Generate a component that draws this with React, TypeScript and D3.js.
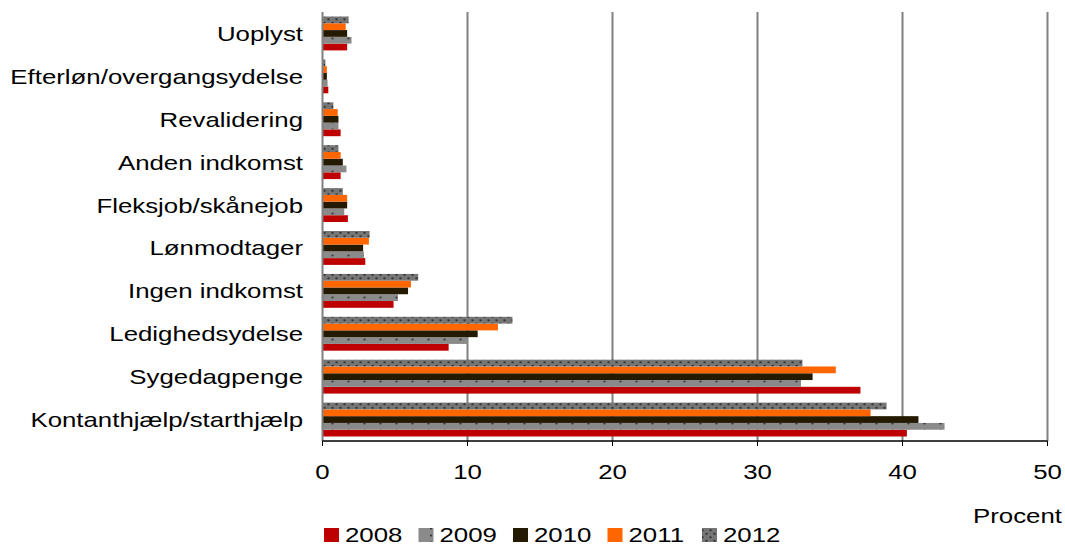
import React from "react";
import * as d3 from "d3";

const categories = [
  "Uoplyst",
  "Efterløn/overgangsydelse",
  "Revalidering",
  "Anden indkomst",
  "Fleksjob/skånejob",
  "Lønmodtager",
  "Ingen indkomst",
  "Ledighedsydelse",
  "Sygedagpenge",
  "Kontanthjælp/starthjælp",
];
const years = ["2008", "2009", "2010", "2011", "2012"];
const v2008 = [1.7, 0.4, 1.25, 1.25, 1.75, 2.95, 4.9, 8.7, 37.1, 40.3];
const v2009 = [2.0, 0.35, 1.1, 1.65, 1.5, 2.85, 5.2, 10.0, 33.0, 42.9];
const v2010 = [1.7, 0.3, 1.1, 1.4, 1.7, 2.8, 5.9, 10.7, 33.8, 41.1];
const v2011 = [1.6, 0.3, 1.05, 1.25, 1.7, 3.2, 6.1, 12.1, 35.4, 37.8];
const v2012 = [1.8, 0.2, 0.75, 1.1, 1.4, 3.25, 6.6, 13.1, 33.1, 38.9];
const seriesValues = [v2008, v2009, v2010, v2011, v2012];
const xTicks = [0, 10, 20, 30, 40, 50];

const fills = ["#BE0000", "url(#p2009)", "#241A02", "#FF6600", "url(#p2012)"];

const SX = 1.26;

function T(props: { x: number; y: number; anchor?: string; size?: number; children: React.ReactNode }) {
  const { x, y, anchor = "start", size = 20.5, children } = props;
  return (
    <g transform={`translate(${x},${y}) scale(${SX},1)`}>
      <text x={0} y={0} textAnchor={anchor as any} fontSize={size} fill="#000">
        {children}
      </text>
    </g>
  );
}

export default function App() {
  const W = 1065, H = 545;
  const left = 322.5, right = 1047.5, top = 12, bottom = 441;
  const x = d3.scaleLinear().domain([0, 50]).range([left, right]);
  const y = d3.scaleBand().domain(categories).range([top, bottom]).paddingInner(0.21).paddingOuter(0.105);
  const yi = d3.scaleBand().domain([...years].reverse()).range([0, y.bandwidth()]);
  const font = "'Liberation Sans', Arial, sans-serif";

  return (
    <svg width={W} height={H} style={{ position: "absolute", left: 0, top: 0 }} fontFamily={font}>
      <defs>
        <pattern id="p2009" patternUnits="userSpaceOnUse" width={16} height={7} x={left} y={0}>
          <rect width={16} height={7} fill="#8A8A8A" />
          <circle cx={10} cy={3.5} r={1.1} fill="#333" />
        </pattern>
        <pattern id="p2012" patternUnits="userSpaceOnUse" width={8} height={7} x={left} y={0}>
          <rect width={8} height={7} fill="#767676" />
          <circle cx={2} cy={1.8} r={1.1} fill="#2a2a2a" />
          <circle cx={6} cy={5.3} r={1.1} fill="#2a2a2a" />
        </pattern>
      </defs>
      {xTicks.filter((t) => t > 0).map((t) => (
        <line key={t} x1={x(t)} x2={x(t)} y1={top} y2={bottom} stroke="#808080" strokeWidth={2} />
      ))}
      {categories.map((c, ci) =>
        years.map((yr, si) => (
          <rect
            key={c + yr}
            x={x(0)}
            y={(y(c) as number) + (yi(yr) as number)}
            width={x(seriesValues[si][ci]) - x(0)}
            height={yi.bandwidth()}
            fill={fills[si]}
          />
        ))
      )}
      <line x1={x(0)} x2={x(0)} y1={top} y2={bottom} stroke="#808080" strokeWidth={2} />
      <line x1={x(0)} x2={x(50)} y1={bottom} y2={bottom} stroke="#000" strokeWidth={1.5} />
      {xTicks.map((t) => (
        <line key={"tk" + t} x1={x(t)} x2={x(t)} y1={bottom} y2={bottom + 5} stroke="#000" strokeWidth={1} />
      ))}
      {xTicks.map((t) => (
        <T key={"tl" + t} x={x(t)} y={479} anchor="middle">
          {t}
        </T>
      ))}
      {categories.map((c) => (
        <T key={"cl" + c} x={303} y={(y(c) as number) + y.bandwidth() / 2 + 7.5} anchor="end">
          {c}
        </T>
      ))}
      <T x={1062} y={523} anchor="end">
        Procent
      </T>
      {years.map((yr, i) => (
        <g key={"lg" + yr} transform={`translate(${324 + i * 94.5},0)`}>
          <rect x={0} y={528} width={15} height={14} fill={fills[i]} />
          <T x={21} y={542}>
            {yr}
          </T>
        </g>
      ))}
    </svg>
  );
}
